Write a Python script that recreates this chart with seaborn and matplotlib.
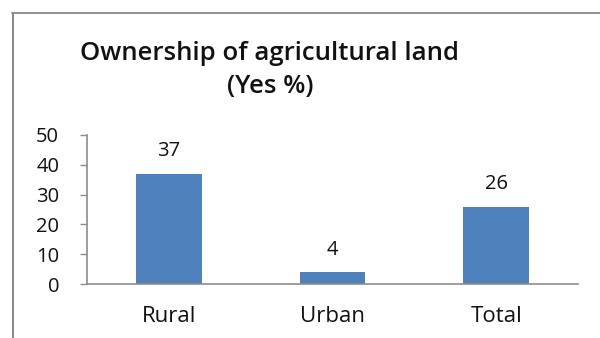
import matplotlib
matplotlib.use("Agg")
import matplotlib.pyplot as plt
from matplotlib.lines import Line2D
import seaborn as sns
import pandas as pd

# Data
categories = ["Rural", "Urban", "Total"]
yes_pct = [37, 4, 26]
y_ticks = [0, 10, 20, 30, 40, 50]
title_text = "Ownership of agricultural land\n(Yes %)"

sns.set_theme(style="white")
plt.rcParams["font.family"] = ["Open Sans", "DejaVu Sans"]

df = pd.DataFrame({"area": categories, "pct": yes_pct})

W, H = 600, 338
fig = plt.figure(figsize=(W / 100, H / 100), dpi=100)
ax = fig.add_axes([87 / W, 1 - 284 / H, (578 - 87) / W, (284 - 135) / H])

sns.barplot(data=df, x="area", y="pct", color="#4F81BD", saturation=1,
            width=0.4, ax=ax, edgecolor="none")

ax.set_ylim(0, 50)
ax.set_xlim(-0.5, 2.5)
ax.set_yticks(y_ticks)
ax.set_yticklabels([str(t) for t in y_ticks], fontsize=14.5, color="#111111")
ax.set_xticks(range(len(categories)))
ax.set_xticklabels(categories, fontsize=16, color="#111111")
ax.set_xlabel("")
ax.set_ylabel("")

for s in ["top", "right"]:
    ax.spines[s].set_visible(False)
for s in ["left", "bottom"]:
    ax.spines[s].set_color("#8C8C8C")
    ax.spines[s].set_linewidth(1.2)

ax.tick_params(axis="y", which="major", left=True, length=5, width=1.0,
               color="#8C8C8C", pad=15)
ax.tick_params(axis="x", which="major", bottom=False, pad=10)

for i, v in enumerate(yes_pct):
    ax.annotate(str(v), (i, v), xytext=(0, 12.5), textcoords="offset points",
                ha="center", va="baseline", fontsize=14.5, color="#111111")

fig.text(270 / W, 1 - 70 / H, title_text, ha="center", va="center",
         fontsize=18.5, fontweight="semibold", color="#111111", linespacing=1.38)

# Chart frame
fig.add_artist(Line2D([12.5 / W, 12.5 / W], [0, 1 - 13 / H],
                      transform=fig.transFigure, color="#8A8A8A", lw=1.5))
fig.add_artist(Line2D([12 / W, 1], [1 - 13 / H, 1 - 13 / H],
                      transform=fig.transFigure, color="#8A8A8A", lw=1.3))

fig.savefig("out.png", dpi=100, facecolor="white")
